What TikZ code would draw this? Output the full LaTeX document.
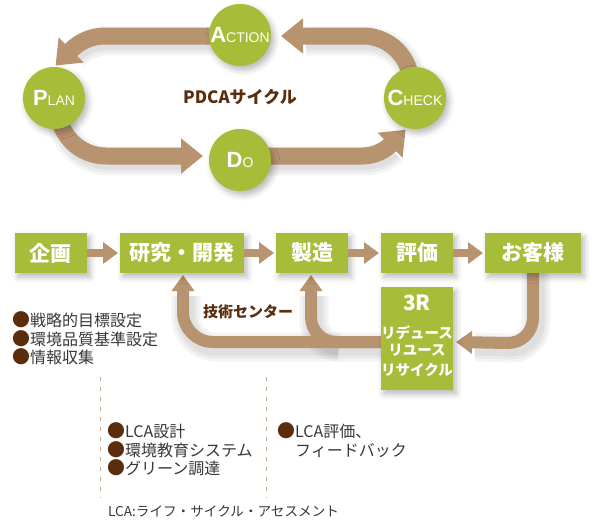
\documentclass[tikz,border=0pt]{standalone}
\usepackage{fontspec}
\setmainfont{Liberation Sans}
\newfontfamily\jp{Noto Sans CJK JP}
\usetikzlibrary{arrows.meta,shadows.blur}
\definecolor{leaf}{RGB}{167,189,57}
\definecolor{bandc}{RGB}{184,147,111}
\definecolor{darkbr}{RGB}{90,45,12}
\definecolor{txtgrey}{RGB}{55,55,55}
\definecolor{dashc}{RGB}{201,168,140}
\newcommand\bigcapl[1]{{\fontsize{22}{22}\selectfont\bfseries #1}}
\newcommand\smallcapl[1]{{\fontsize{14}{14}\selectfont #1}}
\newcommand\bul{\textcolor{darkbr}{\scalebox{1.12}{●}}}
\begin{document}
\begin{tikzpicture}[x=1pt,y=-1pt,
  softshadow/.style={blur shadow={shadow xshift=3pt,shadow yshift=-4pt,shadow opacity=28,shadow blur radius=6pt}},
  phase/.style={circle,fill=leaf,minimum size=62pt,inner sep=0pt,text=white,softshadow},
  band/.style={draw=bandc,line width=17pt,-{Triangle[length=22pt,width=34pt]}},
  smallarrow/.style={draw=bandc,line width=8pt,-{Triangle[length=15pt,width=21pt]}},
  loop/.style={draw=bandc,line width=12pt,-{Triangle[length=16pt,width=22pt]}},
  shd/.style={draw=black,opacity=0.045,line width=#1,shift={(3,5)}},
  stepbox/.style={fill=leaf,text=white,font=\jp\bfseries\fontsize{21}{21}\selectfont,minimum height=40pt,inner sep=0pt,softshadow},
  brown/.style={text=darkbr,font=\jp\bfseries\fontsize{15}{15}\selectfont},
  listtext/.style={text=txtgrey,font=\jp\fontsize{16}{18.5}\selectfont,align=left,inner sep=0pt,anchor=west},
  dashline/.style={draw=dashc,line width=1.2pt,dash pattern=on 4pt off 6pt}
]
\useasboundingbox (0,0) rectangle (595,520);

% ---------- PDCA band shadows ----------
\foreach \w in {29pt,23pt,17pt}{
  \path[shd=\w] (240,36) -- (105,36) arc[start angle=270,end angle=225,radius=48];
  \path[shd=\w] (58,98) -- (58,108) arc[start angle=180,end angle=90,radius=48] -- (182,156);
  \path[shd=\w] (240,156) -- (362,156) arc[start angle=90,end angle=48,radius=42];
  \path[shd=\w] (411,98) -- (411,84) arc[start angle=0,end angle=-90,radius=48] -- (303,36);
  \path[shd=\w] (417,342) -- (213,342) arc[start angle=90,end angle=180,radius=30] -- (183,291);
  \path[shd=\w] (336,342) arc[start angle=90,end angle=180,radius=25] -- (311,291);
  \path[shd=\w] (533,262) -- (533,318) arc[start angle=0,end angle=90,radius=25] -- (472,342);
}

% ---------- PDCA bands ----------
\coordinate (aS) at (240,36);
\coordinate (pS) at (58,98);
\coordinate (dS) at (240,156);
\coordinate (cS) at (411,98);
\path[band] (aS) -- (105,36) arc[start angle=270,end angle=225,radius=48] -- ++(-15.5,15.5);
\path[band] (pS) -- (58,108) arc[start angle=180,end angle=90,radius=48] -- (203,156);
\path[band] (dS) -- (362,156) arc[start angle=90,end angle=48,radius=42] -- ++(15.5,-15.5);
\path[band] (cS) -- (411,84) arc[start angle=0,end angle=-90,radius=48] -- (281,36);

\node[phase] (action) at (240,35) {\bigcapl{A}\smallcapl{CTION}};
\node[phase] (plan) at (54,98) {\bigcapl{P}\smallcapl{LAN}};
\node[phase] (do) at (240,160) {\bigcapl{D}\smallcapl{O}};
\node[phase] (check) at (415,98) {\bigcapl{C}\smallcapl{HECK}};
\node[text=darkbr,font=\jp\bfseries\fontsize{17}{17}\selectfont] (pdca) at (240,97) {PDCAサイクル};

% ---------- process loops ----------
\coordinate (rS) at (417,342);
\coordinate (oS) at (533,262);
\path[loop] (rS) -- (213,342) arc[start angle=90,end angle=180,radius=30] -- (183,275);
\path[loop] (rS) -- (336,342) arc[start angle=90,end angle=180,radius=25] -- (311,275);
\path[loop] (oS) -- (533,318) arc[start angle=0,end angle=90,radius=25] -- (456,342);

% ---------- process boxes ----------
\node[stepbox,minimum width=72pt] (kikaku) at (51,253) {企画};
\node[stepbox,minimum width=124pt] (kenkyu) at (182,253) {研究・開発};
\node[stepbox,minimum width=72pt] (seizo) at (312,253) {製造};
\node[stepbox,minimum width=72pt] (hyoka) at (417,253) {評価};
\node[stepbox,minimum width=96pt] (okyaku) at (533,253) {お客様};
\node[fill=leaf,minimum width=72pt,minimum height=103pt,inner sep=0pt,softshadow] (threeR) at (417,338.5) {};
\node[text=white,font=\jp\bfseries\fontsize{21}{21}\selectfont] (tR) at (417,303) {3R};
\node[text=white,font=\jp\bfseries\fontsize{14.5}{14.5}\selectfont] (r1) at (417,332.5) {リデュース};
\node[text=white,font=\jp\bfseries\fontsize{14.5}{14.5}\selectfont] (r2) at (417,350.5) {リユース};
\node[text=white,font=\jp\bfseries\fontsize{14.5}{14.5}\selectfont] (r3) at (417,369.5) {リサイクル};

\path[smallarrow] (kikaku.east) -- (118,253);
\path[smallarrow] (kenkyu.east) -- (274,253);
\path[smallarrow] (seizo.east) -- (379,253);
\path[smallarrow] (hyoka.east) -- (483,253);

\node[brown] (gijutsu) at (248,312) {技術センター};

% ---------- lists ----------
\node[listtext] (list1) at (12,338.5) {\bul 戦略的目標設定\\\bul 環境品質基準設定\\\bul 情報収集};
\node[listtext] (list2) at (107,449.5) {\bul LCA設計\\\bul 環境教育システム\\\bul グリーン調達};
\node[listtext] (list3) at (277,440.25) {\bul LCA評価、\\\phantom{\bul}フィードバック};
\node[listtext,font=\jp\fontsize{13.6}{14}\selectfont] (note) at (108,511) {LCA:ライフ・サイクル・アセスメント};

\coordinate (d1a) at (100.5,377);
\coordinate (d1b) at (100.5,498);
\coordinate (d2a) at (266.5,377);
\coordinate (d2b) at (266.5,498);
\path[dashline] (d1a) -- (d1b);
\path[dashline] (d2a) -- (d2b);
\end{tikzpicture}
\end{document}
